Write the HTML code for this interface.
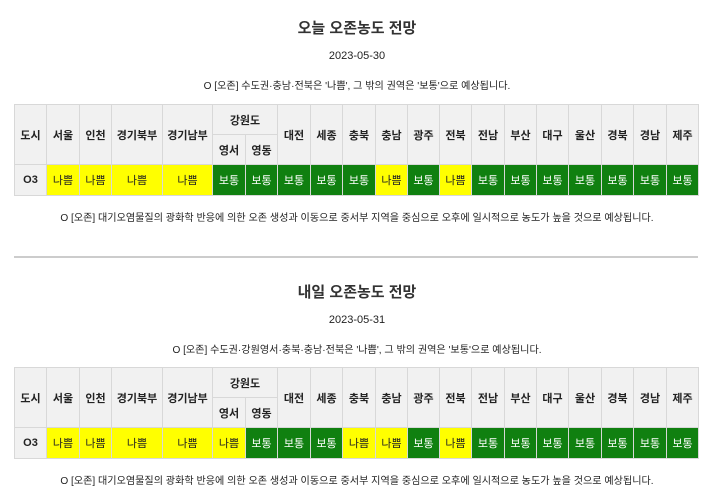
<!DOCTYPE html>
<html><head><meta charset="utf-8">
<style>
body{margin:0;width:714px;height:503px;background:#fff;font-family:"Liberation Sans","Noto Sans CJK KR",sans-serif;color:#222;position:relative;overflow:hidden}
.t{position:absolute;left:0;width:714px;text-align:center;white-space:nowrap}
.title{font-size:15px;font-weight:bold;color:#333}
.date{font-size:11px}
.sum{font-size:10.1px}
table{position:absolute;left:14px;width:684px;border-collapse:collapse;table-layout:fixed;font-size:11px}
td,th{border:1px solid #d8d8d8;text-align:center;padding:0;white-space:nowrap}
th{background:#f1f1f1;font-weight:bold;color:#222}
tr.h1 th{height:29px}
tr.h2 th{height:29px}
tr.d td{height:30px}
td.lbl{background:#f1f1f1;font-weight:bold}
td.b{background:#ffff00;color:#222}
td.g{background:#108010;color:#fff}
hr{position:absolute;left:14px;width:684px;top:256px;margin:0;border:0;border-top:2px solid #ccc}
</style></head><body>
<div class="t title" style="top:17px">오늘 오존농도 전망</div>
<div class="t date" style="top:50px">2023-05-30</div>
<div class="t sum" style="top:77px">O [오존] 수도권·충남·전북은 '나쁨', 그 밖의 권역은 '보통'으로 예상됩니다.</div>
<table style="top:104px" id="t1"></table>
<div class="t sum" style="top:209px">O [오존] 대기오염물질의 광화학 반응에 의한 오존 생성과 이동으로 중서부 지역을 중심으로 오후에 일시적으로 농도가 높을 것으로 예상됩니다.</div>
<hr>
<div class="t title" style="top:281px">내일 오존농도 전망</div>
<div class="t date" style="top:314px">2023-05-31</div>
<div class="t sum" style="top:341px">O [오존] 수도권·강원영서·충북·충남·전북은 '나쁨', 그 밖의 권역은 '보통'으로 예상됩니다.</div>
<table style="top:367px" id="t2"></table>
<div class="t sum" style="top:472px">O [오존] 대기오염물질의 광화학 반응에 의한 오존 생성과 이동으로 중서부 지역을 중심으로 오후에 일시적으로 농도가 높을 것으로 예상됩니다.</div>
<script>
const regions=["서울","인천","경기북부","경기남부","영서","영동","대전","세종","충북","충남","광주","전북","전남","부산","대구","울산","경북","경남","제주"];
const today=["나쁨","나쁨","나쁨","나쁨","보통","보통","보통","보통","보통","나쁨","보통","나쁨","보통","보통","보통","보통","보통","보통","보통"];
const tomorrow=["나쁨","나쁨","나쁨","나쁨","나쁨","보통","보통","보통","나쁨","나쁨","보통","나쁨","보통","보통","보통","보통","보통","보통","보통"];
const widths=[32,33,32,51,50,33,32,33,32,33,32,32,32,33,32,32,33,32,33,32];
function build(id,vals){
  const t=document.getElementById(id);
  let h='<colgroup>'+widths.map(w=>'<col style="width:'+w+'px">').join('')+'</colgroup>';
  h+='<tr class="h1"><th rowspan="2">도시</th>';
  regions.forEach((r,i)=>{
    if(i===4) h+='<th colspan="2">강원도</th>';
    else if(i===5) return;
    else h+='<th rowspan="2">'+r+'</th>';
  });
  h+='</tr><tr class="h2"><th>영서</th><th>영동</th></tr>';
  h+='<tr class="d"><td class="lbl">O3</td>';
  vals.forEach(v=>{h+='<td class="'+(v==="나쁨"?"b":"g")+'">'+v+'</td>';});
  h+='</tr>';
  t.innerHTML=h;
}
build("t1",today);
build("t2",tomorrow);
</script>
</body></html>
